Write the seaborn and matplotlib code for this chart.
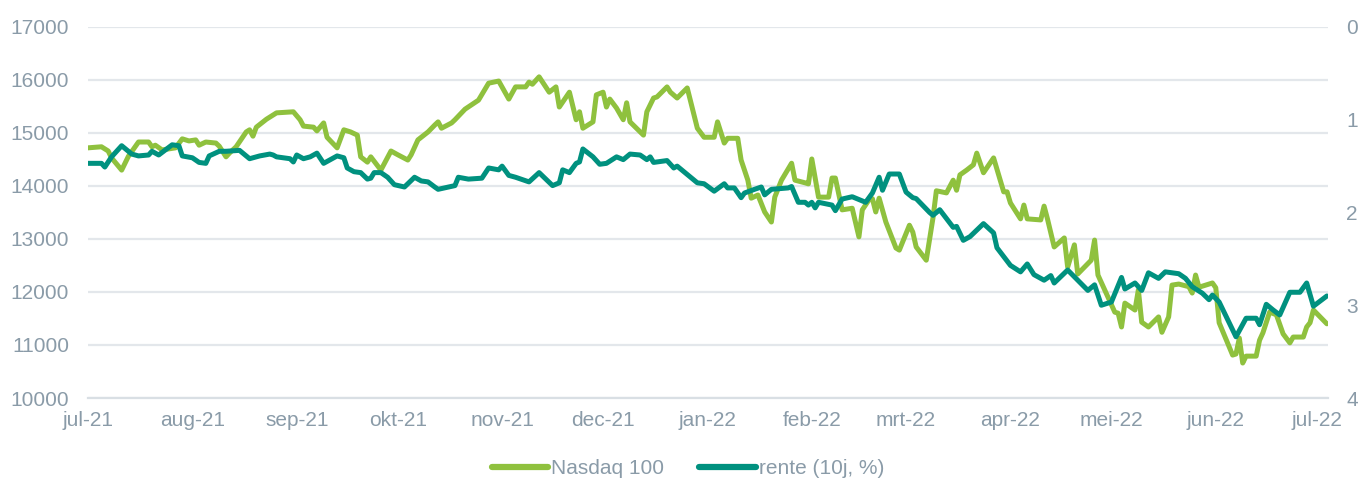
import matplotlib
matplotlib.use("Agg")
import matplotlib.pyplot as plt
from matplotlib.lines import Line2D
import seaborn as sns
import pandas as pd

# ---------------- data ----------------
nasdaq_dates = [
    "2021-07-01", "2021-07-05", "2021-07-07", "2021-07-08", "2021-07-11", "2021-07-13",
    "2021-07-16", "2021-07-19", "2021-07-20", "2021-07-21", "2021-07-23", "2021-07-25",
    "2021-07-27", "2021-07-29", "2021-07-31", "2021-08-02", "2021-08-03", "2021-08-05",
    "2021-08-08", "2021-08-09", "2021-08-11", "2021-08-12", "2021-08-14", "2021-08-17",
    "2021-08-18", "2021-08-19", "2021-08-20", "2021-08-23", "2021-08-24", "2021-08-26",
    "2021-08-31", "2021-09-02", "2021-09-03", "2021-09-06", "2021-09-07", "2021-09-09",
    "2021-09-10", "2021-09-13", "2021-09-15", "2021-09-17", "2021-09-19", "2021-09-20",
    "2021-09-22", "2021-09-23", "2021-09-26", "2021-09-27", "2021-09-29", "2021-10-01",
    "2021-10-04", "2021-10-05", "2021-10-07", "2021-10-10", "2021-10-12", "2021-10-13",
    "2021-10-14", "2021-10-17", "2021-10-18", "2021-10-21", "2021-10-25", "2021-10-28",
    "2021-10-31", "2021-11-03", "2021-11-05", "2021-11-08", "2021-11-09", "2021-11-10",
    "2021-11-12", "2021-11-15", "2021-11-17", "2021-11-18", "2021-11-21", "2021-11-23",
    "2021-11-24", "2021-11-25", "2021-11-28", "2021-11-29", "2021-12-01", "2021-12-02",
    "2021-12-03", "2021-12-05", "2021-12-07", "2021-12-08", "2021-12-09", "2021-12-13",
    "2021-12-14", "2021-12-16", "2021-12-17", "2021-12-20", "2021-12-21", "2021-12-23",
    "2021-12-26", "2021-12-29", "2021-12-31", "2022-01-03", "2022-01-04", "2022-01-06",
    "2022-01-07", "2022-01-10", "2022-01-11", "2022-01-13", "2022-01-14", "2022-01-16",
    "2022-01-18", "2022-01-20", "2022-01-21", "2022-01-23", "2022-01-26", "2022-01-27",
    "2022-01-30", "2022-01-31", "2022-02-01", "2022-02-03", "2022-02-06", "2022-02-07",
    "2022-02-08", "2022-02-10", "2022-02-13", "2022-02-15", "2022-02-16", "2022-02-18",
    "2022-02-19", "2022-02-20", "2022-02-21", "2022-02-23", "2022-02-26", "2022-02-27",
    "2022-03-02", "2022-03-03", "2022-03-04", "2022-03-07", "2022-03-09", "2022-03-10",
    "2022-03-13", "2022-03-15", "2022-03-16", "2022-03-17", "2022-03-19", "2022-03-21",
    "2022-03-22", "2022-03-24", "2022-03-27", "2022-03-30", "2022-03-31", "2022-04-01",
    "2022-04-04", "2022-04-05", "2022-04-06", "2022-04-10", "2022-04-11", "2022-04-12",
    "2022-04-14", "2022-04-17", "2022-04-18", "2022-04-20", "2022-04-21", "2022-04-25",
    "2022-04-26", "2022-04-27", "2022-04-30", "2022-05-02", "2022-05-03", "2022-05-04",
    "2022-05-05", "2022-05-08", "2022-05-09", "2022-05-10", "2022-05-12", "2022-05-15",
    "2022-05-16", "2022-05-18", "2022-05-19", "2022-05-21", "2022-05-24", "2022-05-25",
    "2022-05-26", "2022-05-27", "2022-05-31", "2022-06-01", "2022-06-02", "2022-06-06",
    "2022-06-07", "2022-06-08", "2022-06-09", "2022-06-10", "2022-06-13", "2022-06-14",
    "2022-06-15", "2022-06-17", "2022-06-19", "2022-06-21", "2022-06-23", "2022-06-24",
    "2022-06-27", "2022-06-28", "2022-06-29", "2022-06-30", "2022-07-04",
]
nasdaq_values = [
    14720, 14740, 14660, 14530, 14300, 14560,
    14830, 14830, 14740, 14770, 14680, 14700,
    14720, 14890, 14850, 14870, 14770, 14830,
    14810, 14750, 14550, 14620, 14740, 15020,
    15060, 14940, 15110, 15260, 15300, 15380,
    15400, 15250, 15130, 15110, 15040, 15190,
    14920, 14720, 15060, 15020, 14960, 14550,
    14450, 14550, 14300, 14420, 14660, 14590,
    14490, 14590, 14870, 15020, 15150, 15210,
    15090, 15190, 15250, 15450, 15620, 15940,
    15980, 15640, 15870, 15870, 15960, 15920,
    16060, 15770, 15870, 15490, 15770, 15250,
    15400, 15090, 15210, 15720, 15770, 15490,
    15640, 15470, 15250, 15570, 15210, 14960,
    15400, 15660, 15680, 15870, 15770, 15660,
    15850, 15090, 14920, 14920, 15210, 14810,
    14900, 14900, 14490, 14110, 13770, 13830,
    13510, 13320, 13790, 14110, 14430, 14110,
    14060, 14040, 14510, 13790, 13790, 14150,
    14150, 13550, 13580, 13040, 13550, 13740,
    13760, 13510, 13770, 13320, 12830, 12790,
    13260, 13130, 12850, 12600, 13400, 13910,
    13870, 14110, 13920, 14210, 14300, 14400,
    14620, 14250, 14530, 13890, 13890, 13680,
    13380, 13640, 13380, 13360, 13620, 13380,
    12850, 13020, 12470, 12890, 12340, 12600,
    12980, 12320, 11900, 11620, 11600, 11340,
    11790, 11660, 12040, 11430, 11340, 11530,
    11240, 11530, 12130, 12150, 12100, 11980,
    12320, 12090, 12170, 12080, 11420, 10810,
    10830, 11130, 10660, 10790, 10790, 11090,
    11230, 11620, 11570, 11210, 11040, 11150,
    11150, 11340, 11420, 11660, 11400,
]

rate_dates = [
    "2021-07-01", "2021-07-05", "2021-07-06", "2021-07-08", "2021-07-11", "2021-07-14",
    "2021-07-16", "2021-07-19", "2021-07-20", "2021-07-22", "2021-07-26", "2021-07-28",
    "2021-07-29", "2021-08-01", "2021-08-03", "2021-08-05", "2021-08-06", "2021-08-09",
    "2021-08-11", "2021-08-15", "2021-08-18", "2021-08-21", "2021-08-24", "2021-08-25",
    "2021-08-26", "2021-08-30", "2021-08-31", "2021-09-01", "2021-09-03", "2021-09-05",
    "2021-09-07", "2021-09-09", "2021-09-13", "2021-09-15", "2021-09-16", "2021-09-18",
    "2021-09-20", "2021-09-22", "2021-09-23", "2021-09-24", "2021-09-26", "2021-09-28",
    "2021-09-30", "2021-10-03", "2021-10-06", "2021-10-08", "2021-10-10", "2021-10-12",
    "2021-10-13", "2021-10-18", "2021-10-19", "2021-10-22", "2021-10-26", "2021-10-28",
    "2021-10-31", "2021-11-01", "2021-11-03", "2021-11-05", "2021-11-09", "2021-11-12",
    "2021-11-16", "2021-11-18", "2021-11-19", "2021-11-21", "2021-11-23", "2021-11-24",
    "2021-11-25", "2021-11-28", "2021-11-30", "2021-12-02", "2021-12-05", "2021-12-07",
    "2021-12-09", "2021-12-12", "2021-12-14", "2021-12-15", "2021-12-16", "2021-12-20",
    "2021-12-22", "2021-12-23", "2021-12-29", "2021-12-31", "2022-01-03", "2022-01-06",
    "2022-01-07", "2022-01-09", "2022-01-11", "2022-01-12", "2022-01-15", "2022-01-17",
    "2022-01-18", "2022-01-20", "2022-01-25", "2022-01-26", "2022-01-28", "2022-01-30",
    "2022-01-31", "2022-02-01", "2022-02-02", "2022-02-03", "2022-02-07", "2022-02-08",
    "2022-02-10", "2022-02-13", "2022-02-15", "2022-02-17", "2022-02-19", "2022-02-21",
    "2022-02-22", "2022-02-24", "2022-02-27", "2022-03-01", "2022-03-03", "2022-03-04",
    "2022-03-08", "2022-03-09", "2022-03-11", "2022-03-15", "2022-03-16", "2022-03-18",
    "2022-03-20", "2022-03-24", "2022-03-27", "2022-03-28", "2022-04-01", "2022-04-04",
    "2022-04-06", "2022-04-08", "2022-04-11", "2022-04-13", "2022-04-14", "2022-04-18",
    "2022-04-24", "2022-04-26", "2022-04-28", "2022-05-01", "2022-05-04", "2022-05-05",
    "2022-05-08", "2022-05-10", "2022-05-12", "2022-05-15", "2022-05-17", "2022-05-21",
    "2022-05-23", "2022-05-25", "2022-05-28", "2022-05-30", "2022-05-31", "2022-06-02",
    "2022-06-07", "2022-06-10", "2022-06-13", "2022-06-14", "2022-06-16", "2022-06-18",
    "2022-06-20", "2022-06-23", "2022-06-26", "2022-06-28", "2022-06-30", "2022-07-04",
]
rate_values = [
    1.47, 1.47, 1.51, 1.40, 1.28, 1.37,
    1.39, 1.38, 1.34, 1.38, 1.27, 1.28,
    1.39, 1.41, 1.46, 1.47, 1.39, 1.34,
    1.34, 1.33, 1.42, 1.39, 1.37, 1.38,
    1.40, 1.42, 1.455, 1.38, 1.42, 1.40,
    1.36, 1.47, 1.39, 1.41, 1.52, 1.56,
    1.57, 1.64, 1.63, 1.57, 1.57, 1.62,
    1.70, 1.725, 1.62, 1.66, 1.67, 1.725,
    1.75, 1.71, 1.62, 1.64, 1.63, 1.52,
    1.54, 1.50, 1.60, 1.62, 1.67, 1.57,
    1.71, 1.68, 1.54, 1.57, 1.47, 1.455,
    1.315, 1.40, 1.48, 1.47, 1.40, 1.43,
    1.37, 1.38, 1.43, 1.40, 1.46, 1.44,
    1.52, 1.50, 1.68, 1.69, 1.77, 1.69,
    1.735, 1.735, 1.84, 1.79, 1.75, 1.725,
    1.81, 1.75, 1.735, 1.72, 1.89, 1.89,
    1.92, 1.89, 1.95, 1.89, 1.92, 1.98,
    1.855, 1.83, 1.86, 1.89, 1.79, 1.62,
    1.76, 1.585, 1.585, 1.78, 1.84, 1.85,
    2.00, 2.03, 1.97, 2.16, 2.15, 2.30,
    2.26, 2.12, 2.22, 2.38, 2.57, 2.64,
    2.555, 2.67, 2.73, 2.68, 2.76, 2.62,
    2.84, 2.78, 3.00, 2.965, 2.70, 2.825,
    2.76, 2.84, 2.65, 2.71, 2.64, 2.66,
    2.71, 2.80, 2.87, 2.94, 2.89, 2.965,
    3.34, 3.14, 3.14, 3.21, 2.99, 3.05,
    3.105, 2.86, 2.86, 2.76, 3.01, 2.90,
]

month_ticks = ["2021-07-01", "2021-08-01", "2021-09-01", "2021-10-01", "2021-11-01",
               "2021-12-01", "2022-01-01", "2022-02-01", "2022-03-01", "2022-04-01",
               "2022-05-01", "2022-06-01", "2022-07-01"]
month_labels = ["jul-21", "aug-21", "sep-21", "okt-21", "nov-21", "dec-21", "jan-22",
                "feb-22", "mrt-22", "apr-22", "mei-22", "jun-22", "jul-22"]
left_ticks = [10000, 11000, 12000, 13000, 14000, 15000, 16000, 17000]
right_ticks = [0, 1, 2, 3, 4]
series_names = ["Nasdaq 100", "rente (10j, %)"]

# ---------------- style ----------------
sns.set_style("white")
plt.rcParams["font.family"] = ["Liberation Sans", "DejaVu Sans"]

GREEN = "#8FC13E"
TEAL = "#00917F"
TEXT = "#8A9BA8"
GRID = "#E3E7EB"
FS = 15

df_n = pd.DataFrame({"date": pd.to_datetime(nasdaq_dates), "value": nasdaq_values})
df_r = pd.DataFrame({"date": pd.to_datetime(rate_dates), "value": rate_values})

fig = plt.figure(figsize=(13.62, 4.82), dpi=100)
ax = fig.add_axes([88 / 1362, 1 - 398 / 482, 1240 / 1362, 371 / 482])
ax2 = ax.twinx()

sns.lineplot(data=df_n, x="date", y="value", ax=ax, color=GREEN, linewidth=3.6,
             legend=False, zorder=3)
sns.lineplot(data=df_r, x="date", y="value", ax=ax2, color=TEAL, linewidth=3.6,
             legend=False, zorder=3)

ax.set_xlim(pd.Timestamp("2021-07-01"), pd.Timestamp("2022-07-04 08:00"))
ax.set_ylim(10000, 17000)
ax2.set_ylim(4, 0)

ax.set_yticks(left_ticks)
ax.set_yticklabels([str(t) for t in left_ticks])
ax2.set_yticks(right_ticks)
ax2.set_yticklabels([str(t) for t in right_ticks])
ax.set_xticks(pd.to_datetime(month_ticks))
ax.set_xticklabels(month_labels)

ax.grid(axis="y", color=GRID, linewidth=1.6)
ax.set_axisbelow(True)
ax2.grid(False)

for a in (ax, ax2):
    for s in a.spines.values():
        s.set_visible(False)
    a.set_xlabel("")
    a.set_ylabel("")
ax.spines["bottom"].set_visible(True)
ax.spines["bottom"].set_color("#D9DFE4")
ax.spines["bottom"].set_linewidth(1.6)

ax.tick_params(axis="x", colors="#D9DFE4", length=4, width=1.4, pad=5,
               labelsize=FS, labelcolor=TEXT)
ax.tick_params(axis="y", length=0, pad=13.5, labelsize=FS, labelcolor=TEXT)
ax2.tick_params(axis="y", length=0, pad=13, labelsize=FS, labelcolor=TEXT)

handles = [Line2D([], [], color=GREEN, linewidth=4.5, solid_capstyle="round"),
           Line2D([], [], color=TEAL, linewidth=4.5, solid_capstyle="round")]
leg = fig.legend(handles, series_names, loc="center", bbox_to_anchor=(0.505, 0.028),
                 ncol=2, frameon=False, fontsize=FS, handlelength=2.7,
                 handletextpad=0.15, columnspacing=1.7)
for t in leg.get_texts():
    t.set_color(TEXT)

fig.savefig("out.png", dpi=100, facecolor="white")
